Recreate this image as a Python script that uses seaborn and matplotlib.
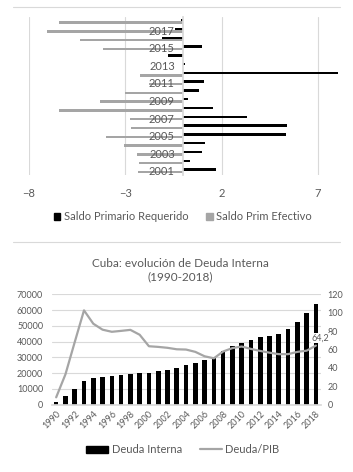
import numpy as np
import pandas as pd
import matplotlib
matplotlib.use("Agg")
import matplotlib.pyplot as plt
from matplotlib.patches import Patch
from matplotlib.lines import Line2D
import seaborn as sns

# ======================
# Datos
# ======================
anios_saldo = list(range(2001, 2019))
saldo_requerido = [1.72, 0.35, 1.0, 1.16, 5.33, 5.38, 3.3, 1.55, 0.26, 0.85,
                   1.08, 8.06, 0.1, -0.8, 1.0, -1.1, -0.4, -0.1]
saldo_efectivo = [-2.35, -2.31, -2.38, -3.09, -3.99, -2.69, -2.74, -6.43, -4.31, -3.0,
                  -1.75, -2.24, 0.0, 0.0, -4.14, -5.33, -7.08, -6.43]

anios_deuda = list(range(1990, 2019))
deuda_interna = [1500, 5500, 9900, 15000, 16700, 17700, 18300, 18800, 19300, 19800,
                 20100, 21300, 22300, 23400, 25000, 26700, 28300, 29300, 34300, 37500,
                 39400, 40900, 42600, 43500, 44600, 48200, 52500, 58200, 63700]
deuda_pib = [8, 33, 68, 102.5, 88, 81.5, 79.2, 80.2, 81.3, 76,
             63.5, 62.8, 61.8, 60.2, 59.9, 57.4, 52.6, 50.4, 57.8, 61.5,
             63.2, 60.6, 58.4, 56.5, 54.9, 54.9, 57.4, 58.7, 64.2]

series = ['Saldo Primario Requerido', 'Saldo Prim Efectivo']
NEGRO = '#000000'
GRIS = '#A5A5A5'
TEXTO = '#595959'
REJILLA = '#D9D9D9'

sns.set_theme(style='white')
plt.rcParams['font.family'] = ['Lato', 'DejaVu Sans']

fig = plt.figure(figsize=(3.53, 4.72), dpi=100)

# bordes superiores de los dos gráficos
fig.add_artist(Line2D([13 / 353, 340 / 353], [1 - 7 / 472, 1 - 7 / 472], color=REJILLA, lw=0.8))
fig.add_artist(Line2D([13 / 353, 340 / 353], [1 - 242 / 472, 1 - 242 / 472], color=REJILLA, lw=0.8))

# ======================
# 1. Saldo primario
# ======================
df_saldo = pd.DataFrame({
    'anio': [str(a) for a in anios_saldo] * 2,
    'serie': [series[0]] * len(anios_saldo) + [series[1]] * len(anios_saldo),
    'valor': saldo_requerido + saldo_efectivo,
})
orden = [str(a) for a in reversed(anios_saldo)]

# -8 en x=29 px, 7 en x=318 px; el eje llega hasta 8.3
ax1 = fig.add_axes([29 / 353, 0.629, (343 - 29) / 353, 0.335])
sns.barplot(data=df_saldo, x='valor', y='anio', hue='serie', orient='h',
            order=orden, hue_order=series, palette=[NEGRO, GRIS],
            width=0.55, dodge=True, linewidth=0, ax=ax1)
ax1.set_xlim(-8, 8.3)
ax1.set_xticks([-8, -3, 2, 7])
ax1.grid(axis='x', color=REJILLA, lw=0.8)
ax1.grid(axis='y', visible=False)
ax1.set_axisbelow(True)
ax1.yaxis.set_zorder(3)  # años por encima de las barras, como en Excel
ax1.set_xlabel('')
ax1.set_ylabel('')
etiquetas = [a if int(a) % 2 == 1 else '' for a in orden]
ax1.set_yticks(range(len(orden)), etiquetas)
for lado in ['top', 'right', 'bottom']:
    ax1.spines[lado].set_visible(False)
ax1.spines['left'].set_position(('data', 0))
ax1.spines['left'].set_color(REJILLA)
ax1.tick_params(axis='y', length=0, pad=6, labelsize=8, labelcolor=TEXTO)
ax1.tick_params(axis='x', length=0, pad=9, labelsize=8, labelcolor=TEXTO)
ax1.get_legend().remove()
fig.legend(handles=[Patch(color=NEGRO, label=series[0]), Patch(color=GRIS, label=series[1])],
           loc='center', bbox_to_anchor=(0.518, 0.541), ncol=2, frameon=False,
           fontsize=8, handlelength=0.6, handleheight=0.6, handletextpad=0.3,
           columnspacing=1.6, labelcolor=TEXTO)

# ======================
# 2. Deuda interna
# ======================
ax2 = fig.add_axes([0.146, 0.1426, 0.762, 0.234])
sns.barplot(x=[str(a) for a in anios_deuda], y=deuda_interna, color=NEGRO,
            width=0.5, linewidth=0, ax=ax2)
ax2.set_ylim(0, 70000)
ax2.set_yticks(range(0, 70001, 10000))
ax2.grid(axis='y', color=REJILLA, lw=0.8)
ax2.set_axisbelow(True)
etiquetas2 = [str(a) if a % 2 == 0 else '' for a in anios_deuda]
ax2.set_xticks(range(len(anios_deuda)), etiquetas2)
plt.setp(ax2.get_xticklabels(), rotation=45, ha='right', rotation_mode='anchor')
ax2.tick_params(axis='x', length=0, pad=3, labelsize=6.5, labelcolor=TEXTO)
ax2.tick_params(axis='y', length=0, pad=6, labelsize=6.5, labelcolor=TEXTO)
for lado in ['top', 'right', 'left']:
    ax2.spines[lado].set_visible(False)
ax2.spines['bottom'].set_color(REJILLA)

ax3 = ax2.twinx()
sns.lineplot(x=np.arange(len(anios_deuda)), y=deuda_pib, color=GRIS, lw=1.6, ax=ax3)
ax3.set_ylim(0, 120)
ax3.set_yticks(range(0, 121, 20))
ax3.grid(False)
for lado in ['top', 'right', 'left', 'bottom']:
    ax3.spines[lado].set_visible(False)
ax3.tick_params(axis='y', length=0, pad=5, labelsize=6.5, labelcolor=TEXTO)
ax3.annotate('64,2', (len(anios_deuda) - 1, deuda_pib[-1]), xytext=(3.5, 5.5),
             textcoords='offset points', ha='center', va='center',
             fontsize=6.5, color=TEXTO,
             bbox=dict(boxstyle='square,pad=0.1', fc='white', ec='none'))
ax2.set_xlim(-0.5, len(anios_deuda) - 0.5)

fig.text(0.51, 0.428, 'Cuba: evolución de Deuda Interna\n(1990-2018)',
         ha='center', va='center', fontsize=8.5, color=TEXTO, linespacing=1.3)

fig.legend(handles=[Patch(color=NEGRO, label='Deuda Interna'),
                    Line2D([], [], color=GRIS, lw=1.6, label='Deuda/PIB')],
           loc='center', bbox_to_anchor=(0.518, 0.047), ncol=2, frameon=False,
           fontsize=8, handlelength=2.0, handletextpad=0.3, columnspacing=1.6,
           labelcolor=TEXTO)

fig.savefig('out.png', dpi=100)
